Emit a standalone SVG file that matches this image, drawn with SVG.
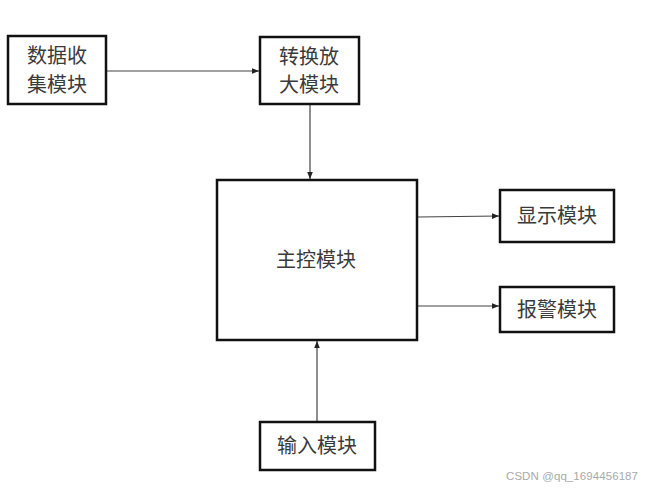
<svg xmlns="http://www.w3.org/2000/svg" width="658" height="489" viewBox="0 0 658 489">
<style>
.box{fill:#fff;stroke:#111;stroke-width:2.5}
.t{font-family:"Liberation Sans","Noto Sans CJK SC",sans-serif;font-size:20px;fill:#3a3a3a;text-anchor:middle}
.c{stroke:#444;stroke-width:1.2;fill:none;marker-end:url(#a)}
.wm{font-family:"Liberation Sans",sans-serif;font-size:11.5px;fill:#aaa}
</style>
<defs>
<marker id="a" viewBox="0 0 10 10" refX="10" refY="5" markerWidth="7" markerHeight="7" orient="auto" markerUnits="userSpaceOnUse">
<path d="M0,1 L10,5 L0,9 z" fill="#222"/>
</marker>
</defs>
<rect width="658" height="489" fill="#fff"/>
<g id="connectors">
<line class="c" x1="107" y1="71" x2="259" y2="71"/>
<line class="c" x1="310" y1="105" x2="310" y2="179"/>
<line class="c" x1="418" y1="217" x2="499" y2="216"/>
<line class="c" x1="418" y1="306" x2="499" y2="306"/>
<line class="c" x1="317" y1="421" x2="317" y2="341"/>
</g>
<g id="n1"><rect class="box" x="8" y="36" width="98" height="68"/><text class="t" x="57" y="63">数据收</text><text class="t" x="57" y="92">集模块</text></g>
<g id="n2"><rect class="box" x="260" y="37" width="99" height="67"/><text class="t" x="309" y="64">转换放</text><text class="t" x="309" y="92">大模块</text></g>
<g id="n3"><rect class="box" x="217" y="180" width="200" height="160"/><text class="t" x="316" y="267">主控模块</text></g>
<g id="n4"><rect class="box" x="500" y="190" width="114" height="52"/><text class="t" x="557" y="223">显示模块</text></g>
<g id="n5"><rect class="box" x="500" y="287" width="114" height="45"/><text class="t" x="557" y="317">报警模块</text></g>
<g id="n6"><rect class="box" x="260" y="422" width="115" height="48"/><text class="t" x="317" y="453">输入模块</text></g>
<text class="wm" x="506" y="480" textLength="132">CSDN @qq_1694456187</text>
</svg>
